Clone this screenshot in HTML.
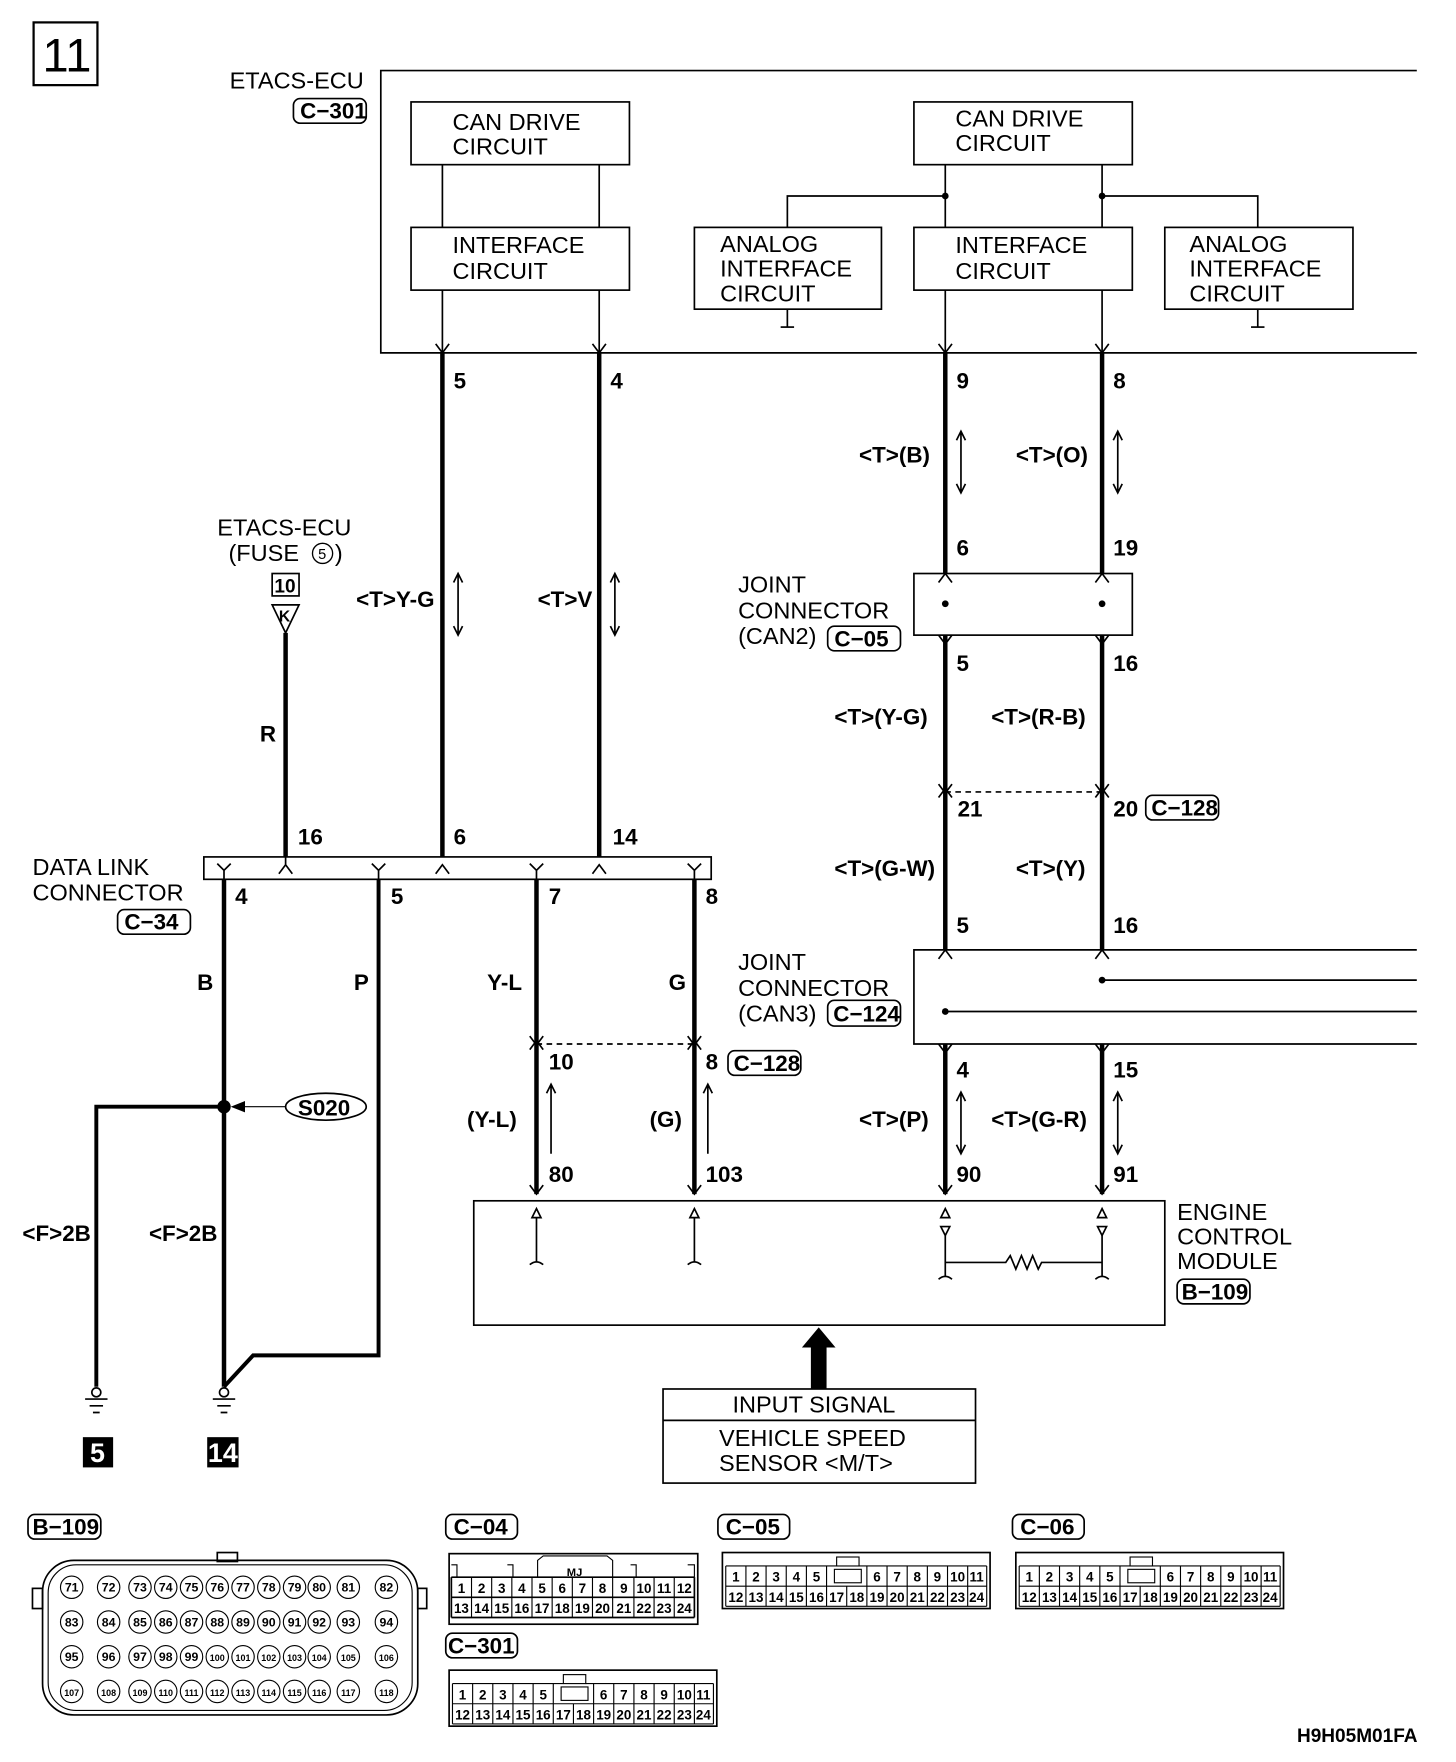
<!DOCTYPE html>
<html><head><meta charset="utf-8"><style>
html,body{margin:0;padding:0;background:#fff}
svg{display:block}
text{font-family:"Liberation Sans",sans-serif;fill:#000}
.t{font-size:21px}
.b{font-size:20px;font-weight:bold}
.s{font-size:12px;font-weight:bold}
</style></head><body>
<svg width="1456" height="1762" viewBox="0 0 1300 1573" preserveAspectRatio="none" xmlns="http://www.w3.org/2000/svg">
<g fill="none" stroke="#000" stroke-width="1.5">
<rect x="30" y="20" width="57" height="56" stroke-width="2"/>
<polyline points="1265,63 340,63 340,315 1265,315"/>
<rect x="367" y="91" width="195" height="56"/>
<rect x="367" y="203" width="195" height="56"/>
<rect x="816" y="91" width="195" height="56"/>
<rect x="816" y="203" width="195" height="56"/>
<rect x="620" y="203" width="167" height="73"/>
<rect x="1040" y="203" width="168" height="73"/>
<line x1="395" y1="147" x2="395" y2="203"/><line x1="535" y1="147" x2="535" y2="203"/>
<line x1="844" y1="147" x2="844" y2="203"/><line x1="984" y1="147" x2="984" y2="203"/>
<polyline points="844,175 703,175 703,203"/><polyline points="984,175 1123,175 1123,203"/>
<line x1="395" y1="259" x2="395" y2="315"/><line x1="535" y1="259" x2="535" y2="315"/>
<line x1="844" y1="259" x2="844" y2="315"/><line x1="984" y1="259" x2="984" y2="315"/>
<line x1="703" y1="276" x2="703" y2="292"/><line x1="697" y1="292" x2="709" y2="292"/>
<line x1="1123" y1="276" x2="1123" y2="292"/><line x1="1117" y1="292" x2="1129" y2="292"/>
<path d="M389,307 L395,315 L401,307 M529,307 L535,315 L541,307 M838,307 L844,315 L850,307 M978,307 L984,315 L990,307"/>
<rect x="816" y="512" width="195" height="55"/>
<polyline points="1265,848 816,848 816,932 1265,932"/>
<line x1="984" y1="875" x2="1265" y2="875"/><line x1="844" y1="903" x2="1265" y2="903"/>
<line x1="844" y1="707" x2="984" y2="707" stroke-dasharray="5,4"/>
<line x1="479" y1="932" x2="620" y2="932" stroke-dasharray="5,4"/>
<path d="M838,520 L844,512 L850,520 M978,520 L984,512 L990,520 M838,567 L844,575 L850,567 M978,567 L984,575 L990,567"/>
<path d="M838,700 L844,708 L850,700 M978,700 L984,708 L990,700 M838,712 L844,704 L850,712 M978,712 L984,704 L990,712"/>
<path d="M838,856 L844,848 L850,856 M978,856 L984,848 L990,856 M838,932 L844,940 L850,932 M978,932 L984,940 L990,932"/>
<path d="M473,925 L479,933 L485,925 M614,925 L620,933 L626,925 M473,937 L479,929 L485,937 M614,937 L620,929 L626,937"/>
<path d="M838,1058 L844,1066 L850,1058 M978,1058 L984,1066 L990,1058 M473,1058 L479,1066 L485,1058 M614,1058 L620,1066 L626,1058"/>
<path d="M858,385 V440 M854,393 L858,385 L862,393 M854,432 L858,440 L862,432"/>
<path d="M998,385 V440 M994,393 L998,385 L1002,393 M994,432 L998,440 L1002,432"/>
<path d="M409,512 V567 M405,520 L409,512 L413,520 M405,559 L409,567 L413,559"/>
<path d="M549,512 V567 M545,520 L549,512 L553,520 M545,559 L549,567 L553,559"/>
<path d="M858,975 V1030 M854,983 L858,975 L862,983 M854,1022 L858,1030 L862,1022"/>
<path d="M998,975 V1030 M994,983 L998,975 L1002,983 M994,1022 L998,1030 L1002,1022"/>
<path d="M492,968 V1030 M488,976 L492,968 L496,976"/>
<path d="M632,968 V1030 M628,976 L632,968 L636,976"/>
<rect x="423" y="1072" width="617" height="111"/>
<path d="M475,1087 L479,1079 L483,1087 Z M616,1087 L620,1079 L624,1087 Z"/>
<path d="M479,1087 V1127 M473,1129 Q479,1124 485,1129 M620,1087 V1127 M614,1129 Q620,1124 626,1129"/>
<path d="M840,1087 L844,1079 L848,1087 Z M840,1095 L844,1103 L848,1095 Z M980,1087 L984,1079 L988,1087 Z M980,1095 L984,1103 L988,1095 Z"/>
<path d="M844,1103 V1140 M984,1103 V1140 M838,1142 Q844,1137 850,1142 M978,1142 Q984,1137 990,1142"/>
<path d="M844,1127 H898 L902,1121 L907,1133 L912,1121 L917,1133 L922,1121 L927,1133 L930,1127 H984"/>
<rect x="592" y="1240" width="279" height="84"/>
<line x1="592" y1="1268" x2="871" y2="1268"/>
<rect x="182" y="765" width="453" height="20"/>
<path d="M194,771 L200,777 L206,771 M200,777 V785 M249,780 L255,772 L261,780 M255,765 V772 M332,771 L338,777 L344,771 M338,777 V785 M389,780 L395,772 L401,780 M473,771 L479,777 L485,771 M479,777 V785 M529,780 L535,772 L541,780 M614,771 L620,777 L626,771 M620,777 V785"/>
<rect x="243" y="512" width="24" height="20"/>
<path d="M243,540 H267 L255,565 Z"/>
<ellipse cx="291" cy="988" rx="36" ry="12"/>
<line x1="255" y1="988" x2="212" y2="988" stroke-width="1"/>
<path d="M218,984 L208,988 L218,992 Z" fill="#000"/>
<circle cx="86" cy="1243" r="4"/><circle cx="200" cy="1243" r="4"/>
<path d="M76,1249 H96 M80,1255 H92 M83,1261 H89 M190,1249 H210 M194,1255 H206 M197,1261 H203"/>
</g>
<g fill="none" stroke="#000" stroke-width="4">
<line x1="395" y1="315" x2="395" y2="765"/><line x1="535" y1="315" x2="535" y2="765"/>
<line x1="844" y1="315" x2="844" y2="512"/><line x1="984" y1="315" x2="984" y2="512"/>
<line x1="844" y1="567" x2="844" y2="848"/><line x1="984" y1="567" x2="984" y2="848"/>
<line x1="844" y1="932" x2="844" y2="1066"/><line x1="984" y1="932" x2="984" y2="1066"/>
<line x1="479" y1="785" x2="479" y2="1066"/><line x1="620" y1="785" x2="620" y2="1066"/>
<line x1="255" y1="565" x2="255" y2="765"/>
<line x1="200" y1="785" x2="200" y2="1238"/>
<polyline points="338,785 338,1210 226,1210 200,1238" stroke-width="3.5"/>
<polyline points="200,988 86,988 86,1238" stroke-width="3.5"/>
</g>
<g fill="#000">
<circle cx="844" cy="175" r="3"/><circle cx="984" cy="175" r="3"/>
<circle cx="844" cy="539" r="3"/><circle cx="984" cy="539" r="3"/>
<circle cx="984" cy="875" r="3"/><circle cx="844" cy="903" r="3"/>
<circle cx="200" cy="988" r="6"/>
<path d="M731,1185 L746,1203 L738,1203 L738,1240 L724,1240 L724,1203 L716,1203 Z"/>
<rect x="74" y="1283" width="27" height="27"/><rect x="185" y="1283" width="28" height="27"/>
</g>
<text x="38" y="64" style="font-size:42px">11</text>
<text class="t" x="205" y="79">ETACS-ECU</text>
<rect x="262" y="88" width="65" height="22" rx="6" fill="none" stroke="#000" stroke-width="1.5"/>
<text class="b" x="268" y="106">C−301</text>
<text class="t" x="404" y="116">CAN DRIVE</text><text class="t" x="404" y="138">CIRCUIT</text>
<text class="t" x="404" y="226">INTERFACE</text><text class="t" x="404" y="249">CIRCUIT</text>
<text class="t" x="853" y="113">CAN DRIVE</text><text class="t" x="853" y="135">CIRCUIT</text>
<text class="t" x="853" y="226">INTERFACE</text><text class="t" x="853" y="249">CIRCUIT</text>
<text class="t" x="643" y="225">ANALOG</text><text class="t" x="643" y="247">INTERFACE</text><text class="t" x="643" y="269">CIRCUIT</text>
<text class="t" x="1062" y="225">ANALOG</text><text class="t" x="1062" y="247">INTERFACE</text><text class="t" x="1062" y="269">CIRCUIT</text>
<g class="b">
<text class="b" x="405" y="347">5</text><text class="b" x="545" y="347">4</text>
<text class="b" x="854" y="347">9</text><text class="b" x="994" y="347">8</text>
<text class="b" x="767" y="413">&lt;T&gt;(B)</text><text class="b" x="907" y="413">&lt;T&gt;(O)</text>
<text class="b" x="854" y="496">6</text><text class="b" x="994" y="496">19</text>
<text class="b" x="854" y="599">5</text><text class="b" x="994" y="599">16</text>
<text class="b" x="745" y="647">&lt;T&gt;(Y-G)</text><text class="b" x="885" y="647">&lt;T&gt;(R-B)</text>
<text class="b" x="855" y="729">21</text><text class="b" x="994" y="729">20</text>
<text class="b" x="745" y="782">&lt;T&gt;(G-W)</text><text class="b" x="907" y="782">&lt;T&gt;(Y)</text>
<text class="b" x="854" y="833">5</text><text class="b" x="994" y="833">16</text>
<text class="b" x="854" y="962">4</text><text class="b" x="994" y="962">15</text>
<text class="b" x="767" y="1006">&lt;T&gt;(P)</text><text class="b" x="885" y="1006">&lt;T&gt;(G-R)</text>
<text class="b" x="854" y="1055">90</text><text class="b" x="994" y="1055">91</text>
<text class="b" x="490" y="1055">80</text><text class="b" x="630" y="1055">103</text>
<text class="b" x="417" y="1006">(Y-L)</text><text class="b" x="580" y="1006">(G)</text>
<text class="b" x="490" y="955">10</text><text class="b" x="630" y="955">8</text>
<text class="b" x="435" y="884">Y-L</text><text class="b" x="597" y="884">G</text>
<text class="b" x="176" y="884">B</text><text class="b" x="316" y="884">P</text>
<text class="b" x="210" y="807">4</text><text class="b" x="349" y="807">5</text><text class="b" x="490" y="807">7</text><text class="b" x="630" y="807">8</text>
<text class="b" x="266" y="754">16</text><text class="b" x="405" y="754">6</text><text class="b" x="547" y="754">14</text>
<text class="b" x="318" y="542">&lt;T&gt;Y-G</text><text class="b" x="480" y="542">&lt;T&gt;V</text>
<text class="b" x="232" y="662">R</text>
<text class="b" x="20" y="1108">&lt;F&gt;2B</text><text class="b" x="133" y="1108">&lt;F&gt;2B</text>
<text class="b" x="266" y="996">S020</text>
<text class="b" x="245" y="529" style="font-size:17px">10</text>
<text class="b" x="249" y="555" style="font-size:14px">K</text>
</g>
<text x="87" y="1305" text-anchor="middle" style="font-size:24px;font-weight:bold;fill:#fff">5</text>
<text x="199" y="1305" text-anchor="middle" style="font-size:24px;font-weight:bold;fill:#fff">14</text>
<text class="t" x="659" y="529">JOINT</text><text class="t" x="659" y="552">CONNECTOR</text><text class="t" x="659" y="575">(CAN2)</text>
<text class="t" x="659" y="866">JOINT</text><text class="t" x="659" y="889">CONNECTOR</text><text class="t" x="659" y="912">(CAN3)</text>
<text class="t" x="29" y="781">DATA LINK</text><text class="t" x="29" y="804">CONNECTOR</text>
<text class="t" x="194" y="478">ETACS-ECU</text><text class="t" x="204" y="501">(FUSE</text><text class="t" x="299" y="501">)</text>
<circle cx="288" cy="494" r="9" fill="none" stroke="#000" stroke-width="1.2"/><text x="284" y="499" style="font-size:13px">5</text>
<text class="t" x="1051" y="1089">ENGINE</text><text class="t" x="1051" y="1111">CONTROL</text><text class="t" x="1051" y="1133">MODULE</text>
<text class="t" x="654" y="1261">INPUT SIGNAL</text>
<text class="t" x="642" y="1291">VEHICLE SPEED</text><text class="t" x="642" y="1313">SENSOR &lt;M/T&gt;</text>
<g fill="none" stroke="#000" stroke-width="1.5">
<rect x="739" y="559" width="65" height="22" rx="6"/>
<rect x="1023" y="710" width="65" height="22" rx="6"/>
<rect x="739" y="893" width="65" height="23" rx="6"/>
<rect x="650" y="938" width="65" height="22" rx="6"/>
<rect x="105" y="812" width="65" height="22" rx="6"/>
<rect x="1051" y="1142" width="65" height="22" rx="6"/>
<rect x="25" y="1352" width="65" height="22" rx="6"/>
<rect x="398" y="1352" width="64" height="22" rx="6"/>
<rect x="398" y="1458" width="64" height="22" rx="6"/>
<rect x="641" y="1352" width="64" height="22" rx="6"/>
<rect x="904" y="1352" width="64" height="22" rx="6"/>
</g>
<g class="b">
<text class="b" x="745" y="577">C−05</text>
<text class="b" x="1028" y="728">C−128</text>
<text class="b" x="744" y="912">C−124</text>
<text class="b" x="655" y="956">C−128</text>
<text class="b" x="111" y="830">C−34</text>
<text class="b" x="1055" y="1160">B−109</text>
<text class="b" x="29" y="1370">B−109</text>
<text class="b" x="405" y="1370">C−04</text>
<text class="b" x="400" y="1476">C−301</text>
<text class="b" x="648" y="1370">C−05</text>
<text class="b" x="911" y="1370">C−06</text>
<text class="b" x="1158" y="1555" style="font-size:17px">H9H05M01FA</text>
</g>
<g fill="none" stroke="#000" stroke-width="1.5">
<rect x="38" y="1393" width="335" height="138" rx="28"/>
<rect x="43" y="1397" width="325" height="130" rx="25" stroke-width="1"/>
<rect x="194" y="1386" width="18" height="8"/>
<rect x="29" y="1418" width="9" height="18"/><rect x="373" y="1418" width="8" height="18"/>
<g stroke-width="1">
<circle cx="64" cy="1417" r="10"/><circle cx="97" cy="1417" r="10"/><circle cx="125" cy="1417" r="10"/><circle cx="148" cy="1417" r="10"/><circle cx="171" cy="1417" r="10"/><circle cx="194" cy="1417" r="10"/><circle cx="217" cy="1417" r="10"/><circle cx="240" cy="1417" r="10"/><circle cx="263" cy="1417" r="10"/><circle cx="285" cy="1417" r="10"/><circle cx="311" cy="1417" r="10"/><circle cx="345" cy="1417" r="10"/>
<circle cx="64" cy="1448" r="10"/><circle cx="97" cy="1448" r="10"/><circle cx="125" cy="1448" r="10"/><circle cx="148" cy="1448" r="10"/><circle cx="171" cy="1448" r="10"/><circle cx="194" cy="1448" r="10"/><circle cx="217" cy="1448" r="10"/><circle cx="240" cy="1448" r="10"/><circle cx="263" cy="1448" r="10"/><circle cx="285" cy="1448" r="10"/><circle cx="311" cy="1448" r="10"/><circle cx="345" cy="1448" r="10"/>
<circle cx="64" cy="1479" r="10"/><circle cx="97" cy="1479" r="10"/><circle cx="125" cy="1479" r="10"/><circle cx="148" cy="1479" r="10"/><circle cx="171" cy="1479" r="10"/><circle cx="194" cy="1479" r="10"/><circle cx="217" cy="1479" r="10"/><circle cx="240" cy="1479" r="10"/><circle cx="263" cy="1479" r="10"/><circle cx="285" cy="1479" r="10"/><circle cx="311" cy="1479" r="10"/><circle cx="345" cy="1479" r="10"/>
<circle cx="64" cy="1510" r="10"/><circle cx="97" cy="1510" r="10"/><circle cx="125" cy="1510" r="10"/><circle cx="148" cy="1510" r="10"/><circle cx="171" cy="1510" r="10"/><circle cx="194" cy="1510" r="10"/><circle cx="217" cy="1510" r="10"/><circle cx="240" cy="1510" r="10"/><circle cx="263" cy="1510" r="10"/><circle cx="285" cy="1510" r="10"/><circle cx="311" cy="1510" r="10"/><circle cx="345" cy="1510" r="10"/>
</g></g>
<g class="s" text-anchor="middle" style="font-size:11px">
<text x="64" y="1421">71</text><text x="97" y="1421">72</text><text x="125" y="1421">73</text><text x="148" y="1421">74</text><text x="171" y="1421">75</text><text x="194" y="1421">76</text><text x="217" y="1421">77</text><text x="240" y="1421">78</text><text x="263" y="1421">79</text><text x="285" y="1421">80</text><text x="311" y="1421">81</text><text x="345" y="1421">82</text>
<text x="64" y="1452">83</text><text x="97" y="1452">84</text><text x="125" y="1452">85</text><text x="148" y="1452">86</text><text x="171" y="1452">87</text><text x="194" y="1452">88</text><text x="217" y="1452">89</text><text x="240" y="1452">90</text><text x="263" y="1452">91</text><text x="285" y="1452">92</text><text x="311" y="1452">93</text><text x="345" y="1452">94</text>
<text x="64" y="1483">95</text><text x="97" y="1483">96</text><text x="125" y="1483">97</text><text x="148" y="1483">98</text><text x="171" y="1483">99</text><text x="194" y="1483" style="font-size:8px">100</text><text x="217" y="1483" style="font-size:8px">101</text><text x="240" y="1483" style="font-size:8px">102</text><text x="263" y="1483" style="font-size:8px">103</text><text x="285" y="1483" style="font-size:8px">104</text><text x="311" y="1483" style="font-size:8px">105</text><text x="345" y="1483" style="font-size:8px">106</text>
<text x="64" y="1514" style="font-size:8px">107</text><text x="97" y="1514" style="font-size:8px">108</text><text x="125" y="1514" style="font-size:8px">109</text><text x="148" y="1514" style="font-size:8px">110</text><text x="171" y="1514" style="font-size:8px">111</text><text x="194" y="1514" style="font-size:8px">112</text><text x="217" y="1514" style="font-size:8px">113</text><text x="240" y="1514" style="font-size:8px">114</text><text x="263" y="1514" style="font-size:8px">115</text><text x="285" y="1514" style="font-size:8px">116</text><text x="311" y="1514" style="font-size:8px">117</text><text x="345" y="1514" style="font-size:8px">118</text>
</g>
<g fill="none" stroke="#000" stroke-width="1.5">
<rect x="401" y="1387" width="222" height="63"/>
<path d="M403,1408 H620 M403,1426 H620 M403,1444 H620 M403,1408 V1444 M620,1408 V1444"/>
<path d="M421,1408 V1444 M439,1408 V1444 M457,1408 V1444 M475,1408 V1444 M493,1408 V1444 M511,1408 V1444 M529,1408 V1444 M547,1408 V1444 M566,1408 V1444 M584,1408 V1444 M602,1408 V1444" stroke-width="1"/>
<path d="M480,1408 V1393 L485,1389 H542 L547,1393 V1408 M403,1397 H408 V1408 M453,1397 H458 V1408 M563,1397 H568 V1408 M614,1397 H620 V1408" stroke-width="1"/>
</g>
<g class="s" text-anchor="middle">
<text x="412" y="1422">1</text><text x="430" y="1422">2</text><text x="448" y="1422">3</text><text x="466" y="1422">4</text><text x="484" y="1422">5</text><text x="502" y="1422">6</text><text x="520" y="1422">7</text><text x="538" y="1422">8</text><text x="557" y="1422">9</text><text x="575" y="1422">10</text><text x="593" y="1422">11</text><text x="611" y="1422">12</text>
<text x="412" y="1440">13</text><text x="430" y="1440">14</text><text x="448" y="1440">15</text><text x="466" y="1440">16</text><text x="484" y="1440">17</text><text x="502" y="1440">18</text><text x="520" y="1440">19</text><text x="538" y="1440">20</text><text x="557" y="1440">21</text><text x="575" y="1440">22</text><text x="593" y="1440">23</text><text x="611" y="1440">24</text>
<text x="513" y="1407" style="font-size:10px">MJ</text>
</g>
<g>
<g fill="none" stroke="#000" stroke-width="1.5">
<rect x="645" y="1386" width="239" height="50"/>
<rect x="747" y="1390" width="20" height="8" stroke-width="1"/>
<path d="M648,1398 H747 M767,1398 H881 M648,1416 H881 M648,1434 H881 M648,1398 V1434 M881,1398 V1434" stroke-width="1"/>
<path d="M666,1398 V1434 M684,1398 V1434 M702,1398 V1434 M720,1398 V1434 M738,1398 V1434 M756,1416 V1434 M774,1398 V1434 M792,1398 V1434 M810,1398 V1434 M828,1398 V1434 M846,1398 V1434 M864,1398 V1434" stroke-width="1"/>
<rect x="745" y="1401" width="24" height="12" stroke-width="1"/>
</g>
<g class="s" text-anchor="middle">
<text x="657" y="1412">1</text><text x="675" y="1412">2</text><text x="693" y="1412">3</text><text x="711" y="1412">4</text><text x="729" y="1412">5</text><text x="783" y="1412">6</text><text x="801" y="1412">7</text><text x="819" y="1412">8</text><text x="837" y="1412">9</text><text x="855" y="1412">10</text><text x="872" y="1412">11</text>
<text x="657" y="1430">12</text><text x="675" y="1430">13</text><text x="693" y="1430">14</text><text x="711" y="1430">15</text><text x="729" y="1430">16</text><text x="747" y="1430">17</text><text x="765" y="1430">18</text><text x="783" y="1430">19</text><text x="801" y="1430">20</text><text x="819" y="1430">21</text><text x="837" y="1430">22</text><text x="855" y="1430">23</text><text x="872" y="1430">24</text>
</g>
</g>
<g transform="translate(262,0)">
<g fill="none" stroke="#000" stroke-width="1.5">
<rect x="645" y="1386" width="239" height="50"/>
<rect x="747" y="1390" width="20" height="8" stroke-width="1"/>
<path d="M648,1398 H747 M767,1398 H881 M648,1416 H881 M648,1434 H881 M648,1398 V1434 M881,1398 V1434" stroke-width="1"/>
<path d="M666,1398 V1434 M684,1398 V1434 M702,1398 V1434 M720,1398 V1434 M738,1398 V1434 M756,1416 V1434 M774,1398 V1434 M792,1398 V1434 M810,1398 V1434 M828,1398 V1434 M846,1398 V1434 M864,1398 V1434" stroke-width="1"/>
<rect x="745" y="1401" width="24" height="12" stroke-width="1"/>
</g>
<g class="s" text-anchor="middle">
<text x="657" y="1412">1</text><text x="675" y="1412">2</text><text x="693" y="1412">3</text><text x="711" y="1412">4</text><text x="729" y="1412">5</text><text x="783" y="1412">6</text><text x="801" y="1412">7</text><text x="819" y="1412">8</text><text x="837" y="1412">9</text><text x="855" y="1412">10</text><text x="872" y="1412">11</text>
<text x="657" y="1430">12</text><text x="675" y="1430">13</text><text x="693" y="1430">14</text><text x="711" y="1430">15</text><text x="729" y="1430">16</text><text x="747" y="1430">17</text><text x="765" y="1430">18</text><text x="783" y="1430">19</text><text x="801" y="1430">20</text><text x="819" y="1430">21</text><text x="837" y="1430">22</text><text x="855" y="1430">23</text><text x="872" y="1430">24</text>
</g>
</g>
<g transform="translate(-244,105)">
<g fill="none" stroke="#000" stroke-width="1.5">
<rect x="645" y="1386" width="239" height="50"/>
<rect x="747" y="1390" width="20" height="8" stroke-width="1"/>
<path d="M648,1398 H747 M767,1398 H881 M648,1416 H881 M648,1434 H881 M648,1398 V1434 M881,1398 V1434" stroke-width="1"/>
<path d="M666,1398 V1434 M684,1398 V1434 M702,1398 V1434 M720,1398 V1434 M738,1398 V1434 M756,1416 V1434 M774,1398 V1434 M792,1398 V1434 M810,1398 V1434 M828,1398 V1434 M846,1398 V1434 M864,1398 V1434" stroke-width="1"/>
<rect x="745" y="1401" width="24" height="12" stroke-width="1"/>
</g>
<g class="s" text-anchor="middle">
<text x="657" y="1412">1</text><text x="675" y="1412">2</text><text x="693" y="1412">3</text><text x="711" y="1412">4</text><text x="729" y="1412">5</text><text x="783" y="1412">6</text><text x="801" y="1412">7</text><text x="819" y="1412">8</text><text x="837" y="1412">9</text><text x="855" y="1412">10</text><text x="872" y="1412">11</text>
<text x="657" y="1430">12</text><text x="675" y="1430">13</text><text x="693" y="1430">14</text><text x="711" y="1430">15</text><text x="729" y="1430">16</text><text x="747" y="1430">17</text><text x="765" y="1430">18</text><text x="783" y="1430">19</text><text x="801" y="1430">20</text><text x="819" y="1430">21</text><text x="837" y="1430">22</text><text x="855" y="1430">23</text><text x="872" y="1430">24</text>
</g>
</g>
</svg>
</body></html>
